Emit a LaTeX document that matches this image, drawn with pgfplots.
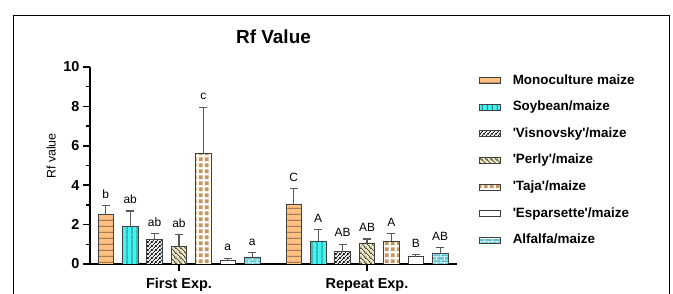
\documentclass[border=0pt]{standalone}
\usepackage{pgfplots}
\pgfplotsset{compat=1.18}
\usepackage{fontspec}
\setmainfont{Liberation Sans}
\usetikzlibrary{patterns,patterns.meta}

\definecolor{cOrange}{HTML}{FFC080}
\definecolor{cOrLine}{HTML}{6E5440}
\definecolor{cCyan}{HTML}{3CF5F5}
\definecolor{cPerly}{HTML}{F2EDC4}
\definecolor{cTaja}{HTML}{C4965A}
\definecolor{cAlf}{HTML}{55C5D5}
\definecolor{cEdge}{HTML}{404040}
\definecolor{cErr}{HTML}{595959}

\tikzdeclarepattern{name=pH, type=uncolored,
  bounding box={(0bp,0bp) and (6bp,5.8bp)}, tile size={(6bp,5.8bp)},
  code={\draw[line width=0.9bp] (-0.5bp,2.9bp) -- (6.5bp,2.9bp);}}
\tikzdeclarepattern{name=pV, type=uncolored,
  bounding box={(0bp,0bp) and (5bp,5bp)}, tile size={(5bp,5bp)},
  code={\draw[line width=0.9bp] (2.5bp,-0.5bp) -- (2.5bp,5.5bp);}}
\tikzdeclarepattern{name=pNE, type=uncolored,
  bounding box={(0bp,0bp) and (4bp,4bp)}, tile size={(4bp,4bp)},
  code={\draw[line width=0.8bp] (-1bp,-1bp) -- (5bp,5bp) (-1bp,3bp) -- (1bp,5bp) (3bp,-1bp) -- (5bp,1bp);}}
\tikzdeclarepattern{name=pNW, type=uncolored,
  bounding box={(0bp,0bp) and (4.5bp,4.5bp)}, tile size={(4.5bp,4.5bp)},
  code={\draw[line width=0.8bp] (-1bp,5.5bp) -- (5.5bp,-1bp) (-1bp,1bp) -- (1bp,-1bp) (3.5bp,5.5bp) -- (5.5bp,3.5bp);}}
\tikzdeclarepattern{name=pSq, type=uncolored,
  bounding box={(0bp,0bp) and (6.2bp,6.2bp)}, tile size={(6.2bp,6.2bp)},
  code={\fill (0.9bp,0.9bp) rectangle (5.3bp,5.3bp);}}
\tikzdeclarepattern{name=pBrick, type=uncolored,
  bounding box={(0bp,0bp) and (8bp,6bp)}, tile size={(8bp,6bp)},
  code={\draw[line width=0.8bp] (-0.5bp,1.5bp) -- (8.5bp,1.5bp) (-0.5bp,4.5bp) -- (8.5bp,4.5bp)
           (1bp,1.5bp) -- (1bp,4.5bp) (5bp,4.5bp) -- (5bp,6.5bp) (5bp,-0.5bp) -- (5bp,1.5bp);}}

\begin{document}
\begin{tikzpicture}
\draw[line width=1bp, black] (13bp,0bp) -- (13bp,278bp) -- (669bp,278bp) -- (669bp,0bp);
\begin{axis}[
  at={(90bp,30bp)}, anchor=south west,
  scale only axis, width=367bp, height=197bp,
  xmin=0.5266, xmax=2.4787, ymin=0, ymax=10,
  axis lines=left, axis line style={-, line width=1.6bp, black},
  ybar=8.9bp, bar width=15.5bp,
  legend image code/.code={\draw[#1] (0bp,-3bp) rectangle (21bp,3bp);},
  xtick={1,2}, xticklabels={First Exp., Repeat Exp.},
  ytick={0,2,...,10}, minor ytick={1,3,5,7,9},
  tick align=outside, major tick length=7bp, minor tick length=3.5bp,
  tick style={line width=1.5bp, black},
  /pgf/number format/assume math mode=true,
  tick label style={font=\bfseries\fontsize{14.5}{14.5}\selectfont},
  xticklabel style={yshift=-4bp},
  title={Rf Value},
  title style={font=\bfseries\fontsize{19}{19}\selectfont, at={(axis description cs:0.5,1.122)}, anchor=center},
  ylabel={Rf value},
  ylabel style={font=\fontsize{12.5}{12.5}\selectfont, at={(axis description cs:-0.106,0.548)}, anchor=center},
  point meta=explicit symbolic,
  nodes near coords,
  visualization depends on={\thisrow{err} \as \myerr},
  every node near coord/.append style={font=\fontsize{12}{12}\selectfont, anchor=base, yshift=\myerr*19.7737pt+7.5pt, text=black},
  error bars/y dir=plus, error bars/y explicit,
  error bars/error bar style={color=cErr, line width=1.2bp},
  error bars/error mark options={rotate=90, mark size=4bp, line width=1.2bp, color=cErr},
  legend cell align=left,
  legend style={draw=none, fill=none, at={(axis description cs:1.052,0.975)}, anchor=north west,
    font=\bfseries\fontsize{13.5}{13.5}\selectfont,
    nodes={inner sep=0pt, text height=10bp, text depth=3bp},
    row sep=13.6bp,
    /tikz/every odd column/.append style={column sep=11.7bp}},
]
\addplot[fill=cOrange, draw=cEdge, line width=0.8bp, postaction={pattern=pH, pattern color=cOrLine}] table[x=x, y=y, y error=err, meta=lab] {
x y err lab
1 2.51 0.45 b
2 3.03 0.80 C
};
\addplot[fill=cCyan, draw=cEdge, line width=0.8bp, postaction={pattern=pV, pattern color=cEdge}] table[x=x, y=y, y error=err, meta=lab] {
x y err lab
1 1.90 0.79 ab
2 1.17 0.58 A
};
\addplot[fill=white, draw=cEdge, line width=0.8bp, postaction={pattern=pNE, pattern color=black}] table[x=x, y=y, y error=err, meta=lab] {
x y err lab
1 1.24 0.30 ab
2 0.63 0.37 AB
};
\addplot[fill=cPerly, draw=cEdge, line width=0.8bp, postaction={pattern=pNW, pattern color=cEdge}] table[x=x, y=y, y error=err, meta=lab] {
x y err lab
1 0.88 0.61 ab
2 1.07 0.20 AB
};
\addplot[fill=white, draw=cEdge, line width=0.8bp, postaction={pattern=pSq, pattern color=cTaja}] table[x=x, y=y, y error=err, meta=lab] {
x y err lab
1 5.63 2.32 c
2 1.17 0.37 A
};
\addplot[fill=white, draw=cEdge, line width=0.8bp] table[x=x, y=y, y error=err, meta=lab] {
x y err lab
1 0.17 0.12 a
2 0.37 0.11 B
};
\addplot[fill=cAlf, draw=cEdge, line width=0.8bp, postaction={pattern=pBrick, pattern color=white}] table[x=x, y=y, y error=err, meta=lab] {
x y err lab
1 0.36 0.22 a
2 0.53 0.30 AB
};
\legend{Monoculture maize, Soybean/maize, \textquotesingle Visnovsky\textquotesingle/maize, \textquotesingle Perly\textquotesingle/maize, \textquotesingle Taja\textquotesingle/maize, \textquotesingle Esparsette\textquotesingle/maize, Alfalfa/maize}
\end{axis}
\pgfresetboundingbox
\path (0bp,0bp) rectangle (673bp,294bp);
\end{tikzpicture}
\end{document}
